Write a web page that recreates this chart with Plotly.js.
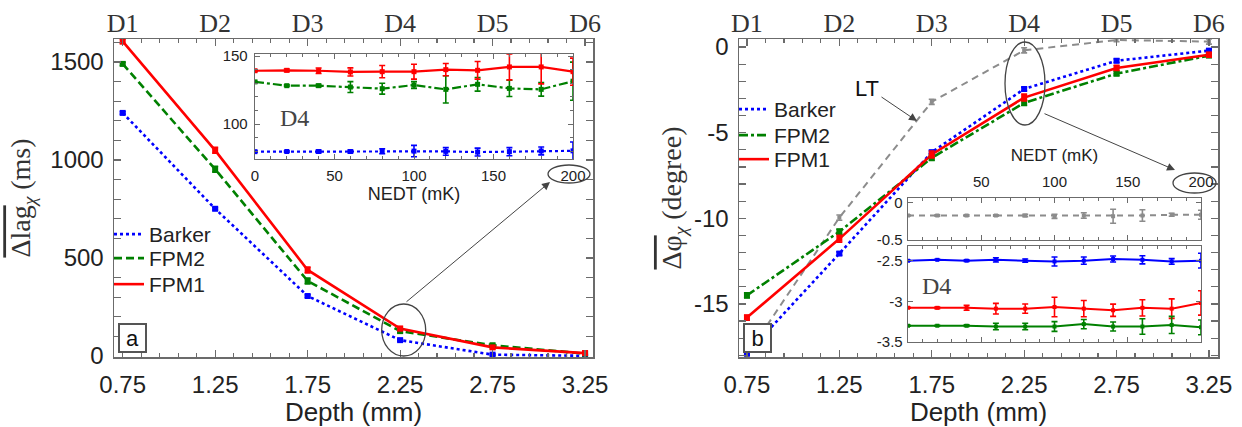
<!DOCTYPE html>
<html>
<head>
<meta charset="utf-8">
<script src="https://cdn.plot.ly/plotly-3.0.1.min.js"></script>
<style>html,body{margin:0;padding:0;background:#fff;}#chart{width:1242px;height:427px;}</style>
</head>
<body>
<div id="chart"></div>
<script>
// ---------- data ----------
const depth = [0.75, 1.25, 1.75, 2.25, 2.75, 3.25];
const depthTicks = ['0.75', '1.25', '1.75', '2.25', '2.75', '3.25'];
const depthLabels = ['D1', 'D2', 'D3', 'D4', 'D5', 'D6'];

// panel a: mean lag (ms)
const lagBarker = [1240, 751, 306, 81, 7, 1];
const lagFPM2 = [1490, 953, 383, 127, 55, 12];
const lagFPM1 = [1605, 1049, 439, 140, 44, 15];
const lagBarkerErr = [6, 6, 6, 5, 4, 3];
const lagFPM2Err = [8, 15, 15, 8, 5, 5];
const lagFPM1Err = [12, 15, 15, 10, 8, 10];

// panel b: mean phase (degree)
const phiLT = [-18.0, -9.96, -3.2, -0.19, 0.41, 0.32];
const phiBarker = [-17.9, -12.06, -6.14, -2.45, -0.80, -0.21];
const phiFPM2 = [-14.5, -10.78, -6.47, -3.26, -1.55, -0.50];
const phiFPM1 = [-15.8, -11.2, -6.27, -2.95, -1.22, -0.45];
const phiLTErr = [0.1, 0.15, 0.15, 0.15, 0.1, 0.15];
const phiBarkerErr = [0.1, 0.1, 0.1, 0.1, 0.1, 0.1];
const phiFPM2Err = [0.15, 0.15, 0.15, 0.15, 0.12, 0.1];
const phiFPM1Err = [0.15, 0.2, 0.2, 0.2, 0.15, 0.15];

// insets: D4 versus NEDT (mK)
const nedt = [0, 20, 40, 60, 80, 100, 120, 140, 160, 180, 200];
const nedtTicksA = [0, 50, 100, 150, 200];
const nedtTicksB = [50, 100, 150, 200];

const lagD4Barker = [79.7, 79.8, 79.8, 79.8, 80.0, 80.1, 79.9, 79.4, 79.7, 80.2, 80.3];
const lagD4BarkerErr = [0.2, 0.5, 1, 1, 1.8, 4.2, 2.8, 2.9, 3, 2.9, 6.5];
const lagD4FPM2 = [131, 128.2, 128.2, 127.2, 126, 128.7, 125.5, 129.2, 126.2, 125.5, 131.5];
const lagD4FPM2Err = [0.3, 0.6, 1, 4, 4, 2.5, 10, 5, 6, 5, 14];
const lagD4FPM1 = [139.2, 139.5, 139.2, 138.3, 138.5, 138.5, 140, 139.5, 142, 142, 138.5];
const lagD4FPM1Err = [0.5, 1, 2, 3, 4.5, 5.5, 4.5, 6.5, 9.5, 12.5, 10];

const phiD4LT = [-0.17, -0.17, -0.17, -0.17, -0.17, -0.18, -0.17, -0.18, -0.17, -0.16, -0.16];
const phiD4LTErr = [0.005, 0.01, 0.01, 0.01, 0.015, 0.028, 0.037, 0.094, 0.077, 0.02, 0.06];
const phiD4Barker = [-2.50, -2.49, -2.50, -2.49, -2.50, -2.51, -2.50, -2.48, -2.49, -2.51, -2.50];
const phiD4BarkerErr = [0.005, 0.005, 0.01, 0.026, 0.02, 0.055, 0.045, 0.037, 0.05, 0.035, 0.09];
const phiD4FPM1 = [-3.08, -3.08, -3.08, -3.09, -3.09, -3.07, -3.09, -3.11, -3.08, -3.09, -3.02];
const phiD4FPM1Err = [0.005, 0.01, 0.03, 0.065, 0.057, 0.12, 0.1, 0.075, 0.1, 0.12, 0.15];
const phiD4FPM2 = [-3.30, -3.30, -3.30, -3.31, -3.31, -3.31, -3.28, -3.31, -3.31, -3.29, -3.32];
const phiD4FPM2Err = [0.005, 0.005, 0.01, 0.04, 0.04, 0.06, 0.057, 0.055, 0.095, 0.105, 0.09];

const yTicksA = [0, 500, 1000, 1500];
const yTicksB = [0, -5, -10, -15];
const yTicksBText = ['0', '-5', '-10', '-15'];
const yTicksInsetTop = [0, -0.5];
const yTicksInsetTopText = ['0', '-0.5'];
const yTicksInsetBot = [-2.5, -3, -3.5];
const yTicksInsetBotText = ['-2.5', '-3', '-3.5'];

// ---------- styling helpers ----------
const W = 1242, H = 427;
const px = x => x / W;
const py = y => 1 - y / H;
const BLUE = '#0000ff', GREEN = '#008000', RED = '#ff0000', GRAY = '#8c8c8c';
const SANS = 'Liberation Sans, Arial, sans-serif';
const SERIF = 'Liberation Serif, Times New Roman, serif';

function lineTrace(x, y, xa, ya, color, dash, width, name, legend) {
  return {x: x, y: y, xaxis: xa, yaxis: ya, mode: 'lines', name: name || '',
    line: {color: color, dash: dash, width: width},
    showlegend: !!legend, legend: legend || 'legend', hoverinfo: 'skip'};
}
function markTrace(x, y, err, xa, ya, color, msize) {
  return {x: x, y: y, xaxis: xa, yaxis: ya, mode: 'markers', showlegend: false,
    marker: {symbol: 'square', size: msize, color: color},
    error_y: {type: 'data', array: err, visible: true, color: color, thickness: 1.6, width: 3},
    hoverinfo: 'skip'};
}

const data = [
  // panel a main
  lineTrace(depth, lagBarker, 'x', 'y', BLUE, 'dot', 2.6, 'Barker', 'legend'),
  lineTrace(depth, lagFPM2, 'x', 'y', GREEN, '8px,4px', 2.6, 'FPM2', 'legend2'),
  lineTrace(depth, lagFPM1, 'x', 'y', RED, 'solid', 2.6, 'FPM1', 'legend3'),
  markTrace(depth, lagBarker, lagBarkerErr, 'x2', 'y', BLUE, 6),
  markTrace(depth, lagFPM2, lagFPM2Err, 'x2', 'y', GREEN, 6),
  markTrace(depth, lagFPM1, lagFPM1Err, 'x2', 'y', RED, 6),
  // panel a inset
  lineTrace(nedt, lagD4Barker, 'x3', 'y3', BLUE, 'dot', 2.2),
  lineTrace(nedt, lagD4FPM2, 'x3', 'y3', GREEN, 'dashdot', 2.2),
  lineTrace(nedt, lagD4FPM1, 'x3', 'y3', RED, 'solid', 2.2),
  markTrace(nedt, lagD4Barker, lagD4BarkerErr, 'x3', 'y3', BLUE, 5),
  markTrace(nedt, lagD4FPM2, lagD4FPM2Err, 'x3', 'y3', GREEN, 5),
  markTrace(nedt, lagD4FPM1, lagD4FPM1Err, 'x3', 'y3', RED, 5),
  // panel b main
  lineTrace(depth, phiLT, 'x4', 'y4', GRAY, '7px,5px', 2),
  lineTrace(depth, phiBarker, 'x4', 'y4', BLUE, 'dot', 2.6, 'Barker', 'legend4'),
  lineTrace(depth, phiFPM2, 'x4', 'y4', GREEN, 'dashdot', 2.6, 'FPM2', 'legend5'),
  lineTrace(depth, phiFPM1, 'x4', 'y4', RED, 'solid', 2.6, 'FPM1', 'legend6'),
  markTrace(depth, phiLT, phiLTErr, 'x5', 'y4', GRAY, 4),
  markTrace(depth, phiBarker, phiBarkerErr, 'x5', 'y4', BLUE, 6),
  markTrace(depth, phiFPM2, phiFPM2Err, 'x5', 'y4', GREEN, 6),
  markTrace(depth, phiFPM1, phiFPM1Err, 'x5', 'y4', RED, 6),
  // panel b inset (top: LT)
  lineTrace(nedt, phiD4LT, 'x6', 'y6', GRAY, '6px,5px', 2),
  markTrace(nedt, phiD4LT, phiD4LTErr, 'x6', 'y6', GRAY, 4),
  // panel b inset (bottom)
  lineTrace(nedt, phiD4Barker, 'x7', 'y7', BLUE, 'solid', 2),
  lineTrace(nedt, phiD4FPM1, 'x7', 'y7', RED, 'solid', 2),
  lineTrace(nedt, phiD4FPM2, 'x7', 'y7', GREEN, 'solid', 2),
  markTrace(nedt, phiD4Barker, phiD4BarkerErr, 'x7', 'y7', BLUE, 4),
  markTrace(nedt, phiD4FPM1, phiD4FPM1Err, 'x7', 'y7', RED, 4),
  markTrace(nedt, phiD4FPM2, phiD4FPM2Err, 'x7', 'y7', GREEN, 4)
];

const frame = {showline: true, linecolor: '#6b6b6b', linewidth: 1.5, mirror: 'allticks',
  ticks: 'inside', ticklen: 7, tickwidth: 1.2, tickcolor: '#6b6b6b',
  showgrid: false, zeroline: false, fixedrange: true};
const insetFrame = {showline: true, linecolor: '#6b6b6b', linewidth: 1.3, mirror: 'allticks',
  ticks: 'inside', ticklen: 5, tickwidth: 1, tickcolor: '#6b6b6b',
  showgrid: false, zeroline: false, fixedrange: true};
const mainTickFont = {family: SANS, size: 24, color: '#222'};
const insetTickFont = {family: SANS, size: 15, color: '#222'};
const topLabelFont = {family: SERIF, size: 26, color: '#333'};

const xMainA = [0.703, 3.293];
const xMainB = [0.707, 3.299];

function legendAt(xp, ytop) {
  return {x: px(xp), xanchor: 'left', y: py(ytop), yanchor: 'top', bgcolor: 'rgba(0,0,0,0)',
    font: {family: SANS, size: 21, color: '#222'}, itemwidth: 30, tracegroupgap: 0};
}
function label(xp, yp, text, font, extra) {
  return Object.assign({xref: 'paper', yref: 'paper', x: px(xp), y: py(yp), text: text,
    showarrow: false, xanchor: 'center', yanchor: 'middle', font: font}, extra || {});
}
function arrow(hx, hy, tx, ty) {
  return {xref: 'paper', yref: 'paper', x: px(hx), y: py(hy), ax: tx - hx, ay: ty - hy, text: '',
    showarrow: true, arrowhead: 2, arrowsize: 1.6, arrowwidth: 1, arrowcolor: '#444'};
}
function ellipse(x0, x1, y0, y1) {
  return {type: 'circle', xref: 'paper', yref: 'paper', x0: px(x0), x1: px(x1), y0: py(y1), y1: py(y0),
    line: {color: '#444', width: 1.3}};
}
const boxLabel = {bgcolor: '#fff', bordercolor: '#555', borderwidth: 2, borderpad: 1, width: 23, height: 24};

const layout = {
  width: W, height: H,
  margin: {l: 0, r: 0, t: 0, b: 0},
  paper_bgcolor: '#fff', plot_bgcolor: '#fff',
  font: {family: SANS, color: '#222'},
  xaxis: Object.assign({}, frame, {
    domain: [px(114), px(593)], anchor: 'y', range: xMainA,
    tickmode: 'array', tickvals: depth, ticktext: depthTicks, tickfont: mainTickFont,
    ticklabelstandoff: 6,
    minor: {dtick: 0.1, tick0: 0.05, ticks: 'inside', ticklen: 4, tickcolor: '#6b6b6b', showgrid: false},
    title: {text: 'Depth (mm)', font: {family: SANS, size: 26, color: '#222'}, standoff: 4}
  }),
  xaxis2: {overlaying: 'x', side: 'top', anchor: 'y', range: xMainA, tickmode: 'array',
    tickvals: depth, ticktext: depthLabels, ticks: '', showline: false, showgrid: false,
    zeroline: false, tickfont: topLabelFont, ticklabelstandoff: 1, fixedrange: true},
  yaxis: Object.assign({}, frame, {
    domain: [py(357), py(39)], anchor: 'x', range: [-5, 1617],
    tickmode: 'array', tickvals: yTicksA, tickfont: mainTickFont, ticklabelstandoff: 4,
    minor: {dtick: 100, tick0: 0, ticks: 'inside', ticklen: 4, tickcolor: '#6b6b6b', showgrid: false},
    title: {text: '<span style="text-decoration:overline">Δlag</span><sub><i>χ</i></sub> (ms)',
      font: {family: SERIF, size: 28, color: '#333'}, standoff: 11}
  }),
  xaxis3: Object.assign({}, insetFrame, {
    domain: [px(255), px(573)], anchor: 'y3', range: [0, 200],
    tickmode: 'array', tickvals: nedtTicksA, tickfont: insetTickFont, ticklabelstandoff: 3,
    minor: {dtick: 10, ticks: 'inside', ticklen: 3, tickcolor: '#6b6b6b', showgrid: false},
    title: {text: 'NEDT (mK)', font: {family: SANS, size: 18, color: '#222'}, standoff: 2}
  }),
  yaxis3: Object.assign({}, insetFrame, {
    domain: [py(159), py(54)], anchor: 'x3', range: [74.3, 151.5],
    tickmode: 'array', tickvals: [100, 150], tickfont: insetTickFont, ticklabelstandoff: 3,
    minor: {dtick: 10, ticks: 'inside', ticklen: 3, tickcolor: '#6b6b6b', showgrid: false}
  }),
  xaxis4: Object.assign({}, frame, {
    domain: [px(739), px(1218)], anchor: 'y4', range: xMainB,
    tickmode: 'array', tickvals: depth, ticktext: depthTicks, tickfont: mainTickFont,
    ticklabelstandoff: 6,
    minor: {dtick: 0.1, tick0: 0.05, ticks: 'inside', ticklen: 4, tickcolor: '#6b6b6b', showgrid: false},
    title: {text: 'Depth (mm)', font: {family: SANS, size: 26, color: '#222'}, standoff: 4}
  }),
  xaxis5: {overlaying: 'x4', side: 'top', anchor: 'y4', range: xMainB, tickmode: 'array',
    tickvals: depth, ticktext: depthLabels, ticks: '', showline: false, showgrid: false,
    zeroline: false, tickfont: topLabelFont, ticklabelstandoff: 1, fixedrange: true},
  yaxis4: Object.assign({}, frame, {
    domain: [py(357), py(39)], anchor: 'x4', range: [-18.1, 0.47],
    tickmode: 'array', tickvals: yTicksB, ticktext: yTicksBText, tickfont: mainTickFont,
    ticklabelstandoff: 4,
    minor: {dtick: 1, tick0: 0, ticks: 'inside', ticklen: 4, tickcolor: '#6b6b6b', showgrid: false},
    title: {text: '<span style="text-decoration:overline">Δφ</span><sub><i>χ</i></sub> (degree)',
      font: {family: SERIF, size: 28, color: '#333'}, standoff: 4}
  }),
  xaxis6: Object.assign({}, insetFrame, {
    domain: [px(908), px(1201)], anchor: 'y6', range: [0, 200], side: 'top',
    tickmode: 'array', tickvals: nedtTicksB, tickfont: insetTickFont, ticklabelstandoff: 4,
    minor: {dtick: 10, ticks: 'inside', ticklen: 3, tickcolor: '#6b6b6b', showgrid: false},
    title: {text: 'NEDT (mK)', font: {family: SANS, size: 17, color: '#222'}, standoff: 6}
  }),
  yaxis6: Object.assign({}, insetFrame, {
    domain: [py(240), py(198)], anchor: 'x6', range: [-0.5, 0.066],
    tickmode: 'array', tickvals: yTicksInsetTop, ticktext: yTicksInsetTopText,
    tickfont: insetTickFont, ticklabelstandoff: 1
  }),
  xaxis7: Object.assign({}, insetFrame, {
    domain: [px(908), px(1201)], anchor: 'y7', range: [0, 200],
    tickmode: 'array', tickvals: nedtTicksB, showticklabels: false,
    minor: {dtick: 10, ticks: 'inside', ticklen: 3, tickcolor: '#6b6b6b', showgrid: false}
  }),
  yaxis7: Object.assign({}, insetFrame, {
    domain: [py(342), py(246)], anchor: 'x7', range: [-3.5, -2.32],
    tickmode: 'array', tickvals: yTicksInsetBot, ticktext: yTicksInsetBotText,
    tickfont: insetTickFont, ticklabelstandoff: 1
  }),
  legend: legendAt(109, 214),
  legend2: legendAt(109, 238),
  legend3: legendAt(109, 264),
  legend4: legendAt(734, 89),
  legend5: legendAt(734, 115),
  legend6: legendAt(734, 139),
  shapes: [
    ellipse(381.7, 425.7, 304, 356),
    ellipse(548, 590, 165, 183),
    ellipse(1005, 1045, 42, 125),
    ellipse(1173, 1216, 173, 193)
  ],
  annotations: [
    arrow(550, 182, 405, 303),
    arrow(1175, 170, 1043, 113),
    arrow(917, 121, 880, 96),
    label(867, 88, 'LT', {family: SANS, size: 22, color: '#111'}),
    label(294, 118, 'D4', {family: SERIF, size: 24, color: '#444'}),
    label(936, 286, 'D4', {family: SERIF, size: 24, color: '#444'}),
    label(132.5, 338, 'a', {family: SANS, size: 22, color: '#111'}, boxLabel),
    label(757.5, 337.5, 'b', {family: SANS, size: 22, color: '#111'}, boxLabel)
  ]
};

Plotly.newPlot('chart', data, layout, {staticPlot: true, displayModeBar: false});
</script>
</body>
</html>
